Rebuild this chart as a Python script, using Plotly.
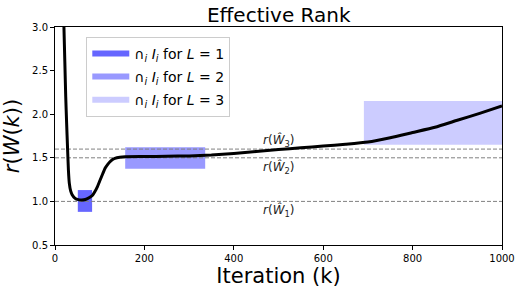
import plotly.graph_objects as go

# Curve data (iteration, effective rank)
iters = [12, 16, 18, 20, 22, 24, 26, 28, 30, 32, 35, 38, 45, 52, 60, 68, 78, 84, 89, 95,
         101, 107, 112, 118, 123, 128, 134, 145, 157, 200, 250, 300, 350, 400, 450,
         500, 550, 600, 650, 700, 750, 800, 850, 900, 950, 1000]
rank = [5.0, 3.9, 3.4, 3.0, 2.6, 2.2, 1.9, 1.62, 1.36, 1.21, 1.12, 1.08, 1.035, 1.02,
        1.016, 1.022, 1.047, 1.07, 1.11, 1.17, 1.245, 1.32, 1.38, 1.425, 1.455, 1.478,
        1.494, 1.507, 1.513, 1.515, 1.517, 1.522, 1.532, 1.55, 1.573, 1.595, 1.615,
        1.635, 1.655, 1.68, 1.73, 1.79, 1.85, 1.93, 2.01, 2.095]

# Intersection intervals: [x0, x1, y0, y1]
rect_names = ["∩<sub><i>i</i></sub> <i>I<sub>i</sub></i> for <i>L</i> = 1",
              "∩<sub><i>i</i></sub> <i>I<sub>i</sub></i> for <i>L</i> = 2",
              "∩<sub><i>i</i></sub> <i>I<sub>i</sub></i> for <i>L</i> = 3"]
rect_x0 = [51, 157, 691]
rect_x1 = [83, 336, 1000]
rect_y0 = [0.88, 1.375, 1.65]
rect_y1 = [1.13, 1.62, 2.15]
rect_colors = ["rgba(0,0,255,0.6)", "rgba(0,0,255,0.4)", "rgba(0,0,255,0.2)"]

# Reference levels
ref_levels = [1.0, 1.5, 1.6]
ref_labels = ["<i>r</i>(<i>W\u0302</i><sub>1</sub>)", "<i>r</i>(<i>W\u0302</i><sub>2</sub>)",
              "<i>r</i>(<i>W\u0302</i><sub>3</sub>)"]
label_y = [0.89, 1.39, 1.70]
label_x = 500

x_ticks = [0, 200, 400, 600, 800, 1000]
y_ticks = [0.5, 1.0, 1.5, 2.0, 2.5, 3.0]

fig = go.Figure()

for i in range(3):
    fig.add_trace(go.Scatter(
        x=[rect_x0[i], rect_x1[i], rect_x1[i], rect_x0[i], rect_x0[i]],
        y=[rect_y0[i], rect_y0[i], rect_y1[i], rect_y1[i], rect_y0[i]],
        fill="toself", fillcolor=rect_colors[i], mode="none",
        name=rect_names[i], legendgroup="g%d" % i, hoverinfo="skip"))

for lv in ref_levels:
    fig.add_trace(go.Scatter(x=[0, 1000], y=[lv, lv], mode="lines",
                             line=dict(color="gray", width=1, dash="4px,2px"),
                             showlegend=False, hoverinfo="skip"))

fig.add_trace(go.Scatter(x=iters, y=rank, mode="lines",
                         line=dict(color="black", width=3, shape="spline", smoothing=0.5),
                         showlegend=False))

for t, ly in zip(ref_labels, label_y):
    fig.add_annotation(x=label_x, y=ly, text=t, showarrow=False,
                       font=dict(size=12, color="#222"))

fig.update_layout(
    width=521, height=292,
    margin=dict(l=55, r=19, t=27, b=47),
    paper_bgcolor="white", plot_bgcolor="white",
    font=dict(family="DejaVu Sans", color="black"),
    title=dict(text="Effective Rank", x=0.535, xref="container", xanchor="center",
               y=0.95, yref="container", yanchor="middle", font=dict(size=20)),
    legend=dict(x=0.07, y=0.955, xanchor="left", yanchor="top",
                bgcolor="rgba(255,255,255,0.8)", bordercolor="#cccccc", borderwidth=1,
                font=dict(size=14), tracegroupgap=2, itemwidth=37),
    xaxis=dict(range=[0, 1000], tickvals=x_ticks, showgrid=False, zeroline=False,
               showline=True, mirror=True, linecolor="black", linewidth=1, automargin=False,
               ticks="outside", ticklen=4, tickcolor="black", tickfont=dict(size=10),
               title=dict(text="Iteration (k)", font=dict(size=21), standoff=4)),
    yaxis=dict(range=[0.5, 3.0], tickvals=y_ticks, tickformat=".1f", showgrid=False,
               zeroline=False, showline=True, mirror=True, linecolor="black", linewidth=1,
               automargin=False,
               ticks="outside", ticklen=4, tickcolor="black", tickfont=dict(size=10),
               title=dict(text="<i>r</i>(<i>W</i>(<i>k</i>))", font=dict(size=21), standoff=6)),
)

fig.write_html("out.html", config={"displayModeBar": False},
               post_script="document.body.style.margin='0';")
